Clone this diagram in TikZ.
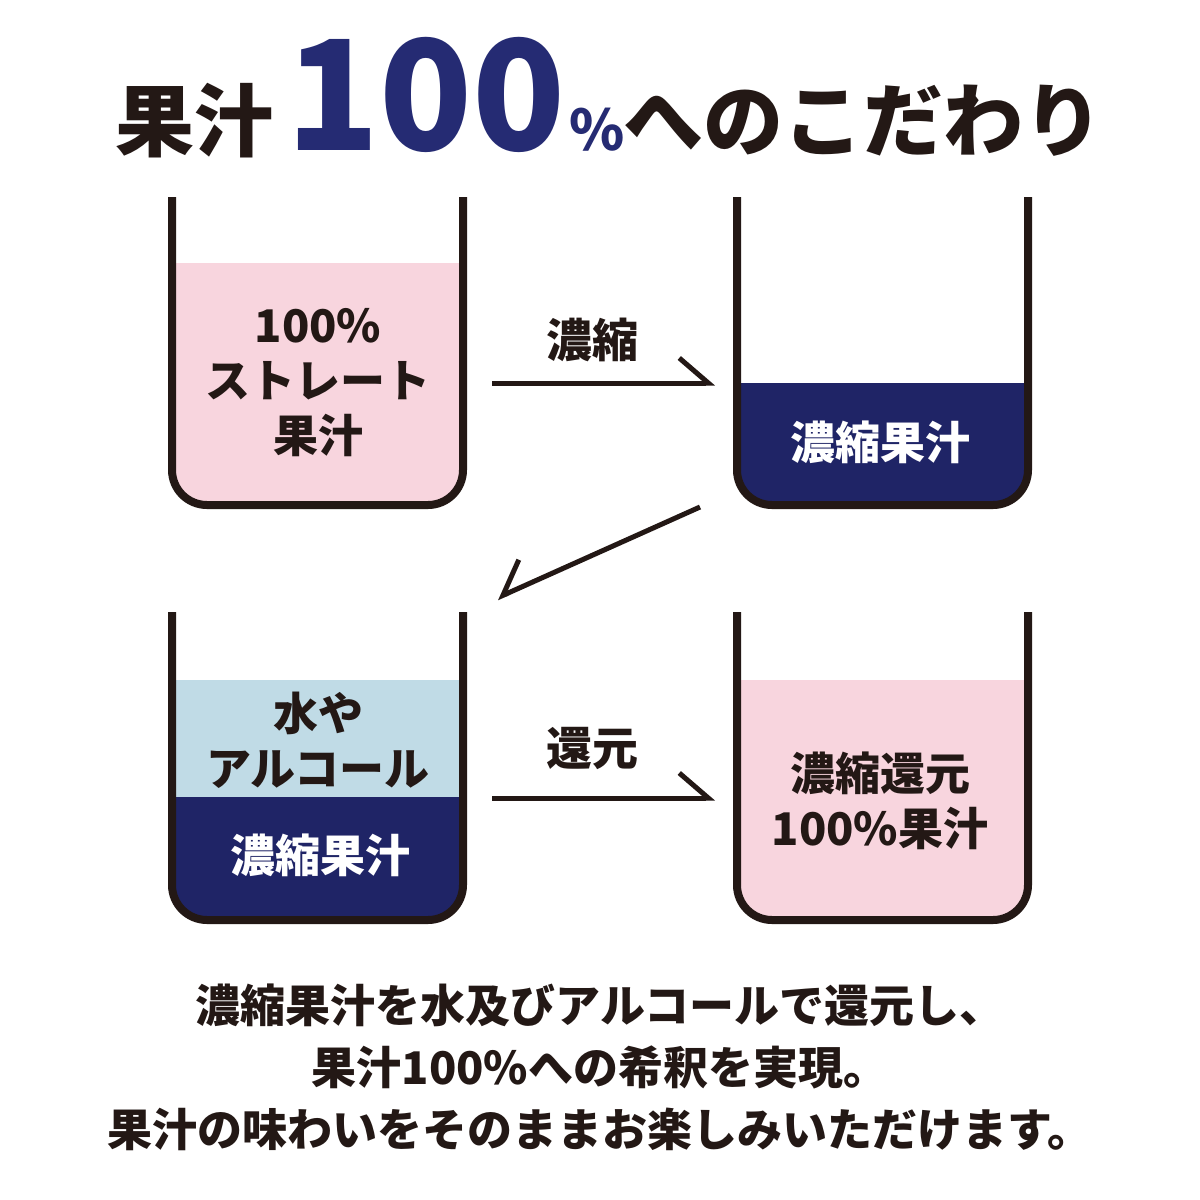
\documentclass[tikz,border=0pt]{standalone}
\usepackage{fontspec}
\setmainfont{Noto Sans CJK JP}
\usetikzlibrary{arrows.meta}
\definecolor{navy}{HTML}{1F2466}
\definecolor{titlenavy}{HTML}{252B73}
\definecolor{juice}{HTML}{F8D5DE}
\definecolor{water}{HTML}{C0DBE6}
\definecolor{ink}{HTML}{231815}

\begin{document}
\begin{tikzpicture}[x=1pt,y=-1pt,
    glass/.style={line width=8pt,draw=ink,rounded corners=35pt},
    flow/.style={line width=5pt,draw=ink},
    label/.style={inner sep=0pt,text=ink,font=\fontsize{45}{55}\selectfont\bfseries,align=center},
    title/.style={anchor=base west,inner sep=0pt,font=\bfseries}]
    \useasboundingbox[fill=white] (0,0) rectangle (1200,1200);

    % title
    \node[title,text=ink,font=\fontsize{79}{79}\selectfont\bfseries] (tjuice) at (115,150) {果汁};
    \node[title,text=titlenavy,font=\fontsize{153}{153}\selectfont\bfseries] (tnum) at ([xshift=13pt]tjuice.base east) {100};
    \node[title,text=titlenavy,font=\fontsize{56}{56}\selectfont\bfseries] (tpct) at ([xshift=3pt]tnum.base east) {\%};
    \node[title,text=ink,font=\fontsize{80}{80}\selectfont\bfseries] (trest) at ([xshift=-2pt]tpct.base east) {へのこだわり};

    % liquids
    \begin{scope}
        \clip[rounded corners=35pt] (172,150) rectangle (463,505);
        \fill[juice] (172,263) rectangle (463,505);
    \end{scope}
    \begin{scope}
        \clip[rounded corners=35pt] (737,150) rectangle (1028,505);
        \fill[navy] (737,383) rectangle (1028,505);
    \end{scope}
    \begin{scope}
        \clip[rounded corners=35pt] (172,560) rectangle (463,920);
        \fill[water] (172,680) rectangle (463,797);
        \fill[navy] (172,797) rectangle (463,920);
    \end{scope}
    \begin{scope}
        \clip[rounded corners=35pt] (737,560) rectangle (1028,920);
        \fill[juice] (737,680) rectangle (1028,920);
    \end{scope}

    % beakers
    \foreach \x/\y in {172/197, 737/197, 172/612, 737/612}
        \draw[glass] (\x,\y) -- ++(0,308) -- ++(291,0) -- ++(0,-308);

    \node[label] (straight) at (318,383) {100\%\\ストレート\\果汁};
    \node[label,text=white] (conc) at (880,442) {濃縮果汁};
    \node[label] (water) at (318,740) {水や\\アルコール};
    \node[label,text=white] (concb) at (320,855) {濃縮果汁};
    \node[label] (result) at (880,801) {濃縮還元\\100\%果汁};

    % arrows
    \coordinate (c1a) at (492,383);
    \coordinate (c1b) at (715,383);
    \coordinate (c2a) at (700,507);
    \coordinate (c2b) at (497,598);
    \coordinate (c3a) at (492,798);
    \coordinate (c3b) at (715,798);
    \draw[flow,-{Straight Barb[left,length=29pt,width=50pt]}] (c1a) -- (c1b);
    \draw[flow,-{Straight Barb[right,length=29pt,width=52pt]}] (c2a) -- (c2b);
    \draw[flow,-{Straight Barb[left,length=29pt,width=50pt]}] (c3a) -- (c3b);
    \node[label,font=\fontsize{46}{55}\selectfont\bfseries] (concentrate) at (592,340) {濃縮};
    \node[label,font=\fontsize{46}{55}\selectfont\bfseries] (restore) at (592,748) {還元};

    % note
    \node[label,font=\fontsize{45}{62}\selectfont\bfseries] (note) at (600,1067)
        {濃縮果汁を水及びアルコールで還元し、\\果汁100\%への希釈を実現。\\果汁の味わいをそのままお楽しみいただけます。};
\end{tikzpicture}
\end{document}
